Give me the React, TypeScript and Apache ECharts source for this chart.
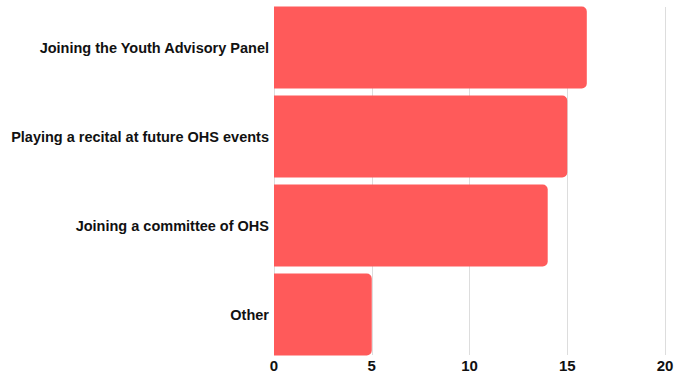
import React, { useEffect, useRef } from "react";
import * as echarts from "echarts";

const categories = [
  "Joining the Youth Advisory Panel",
  "Playing a recital at future OHS events",
  "Joining a committee of OHS",
  "Other",
];
const values = [16, 15, 14, 5];
const xTicks = [0, 5, 10, 15, 20];

export default function App() {
  const ref = useRef<HTMLDivElement>(null);
  useEffect(() => {
    document.body.style.margin = "0";
    if (!ref.current) return;
    const chart = echarts.init(ref.current, undefined, { renderer: "svg" });
    const font = "Liberation Sans, Arial, sans-serif";
    chart.setOption({
      animation: false,
      backgroundColor: "#ffffff",
      grid: [
        { left: 274, right: 16, top: 3, height: 356 },
        { left: 274, right: 16, top: 7, height: 348 },
      ],
      xAxis: [
        {
          gridIndex: 0,
          type: "value",
          min: xTicks[0],
          max: xTicks[xTicks.length - 1],
          interval: 5,
          axisLine: { show: false },
          axisTick: { show: false },
          axisLabel: { show: false },
          splitLine: { show: false },
        },
        {
          gridIndex: 1,
          type: "value",
          min: xTicks[0],
          max: xTicks[xTicks.length - 1],
          interval: 5,
          axisLine: { show: false },
          axisTick: { show: false },
          axisLabel: {
            show: true,
            margin: 3,
            color: "#111111",
            fontSize: 15,
            fontWeight: "bold",
            fontFamily: font,
          },
          splitLine: { show: true, lineStyle: { color: "#dddddd", width: 1 } },
        },
      ],
      yAxis: [
        {
          gridIndex: 0,
          type: "category",
          data: categories,
          inverse: true,
          axisLine: { show: false },
          axisTick: { show: false },
          axisLabel: {
            margin: 5,
            color: "#111111",
            fontSize: 14.5,
            fontWeight: "bold",
            fontFamily: font,
          },
        },
        {
          gridIndex: 1,
          type: "category",
          data: categories,
          show: false,
        },
      ],
      series: [
        {
          type: "bar",
          xAxisIndex: 0,
          yAxisIndex: 0,
          data: values,
          barCategoryGap: "8%",
          itemStyle: { color: "#ff5a5a", borderRadius: [0, 5, 5, 0] },
          z: 3,
        },
      ],
    });
    return () => chart.dispose();
  }, []);
  return <div ref={ref} style={{ width: 681, height: 373 }} />;
}
